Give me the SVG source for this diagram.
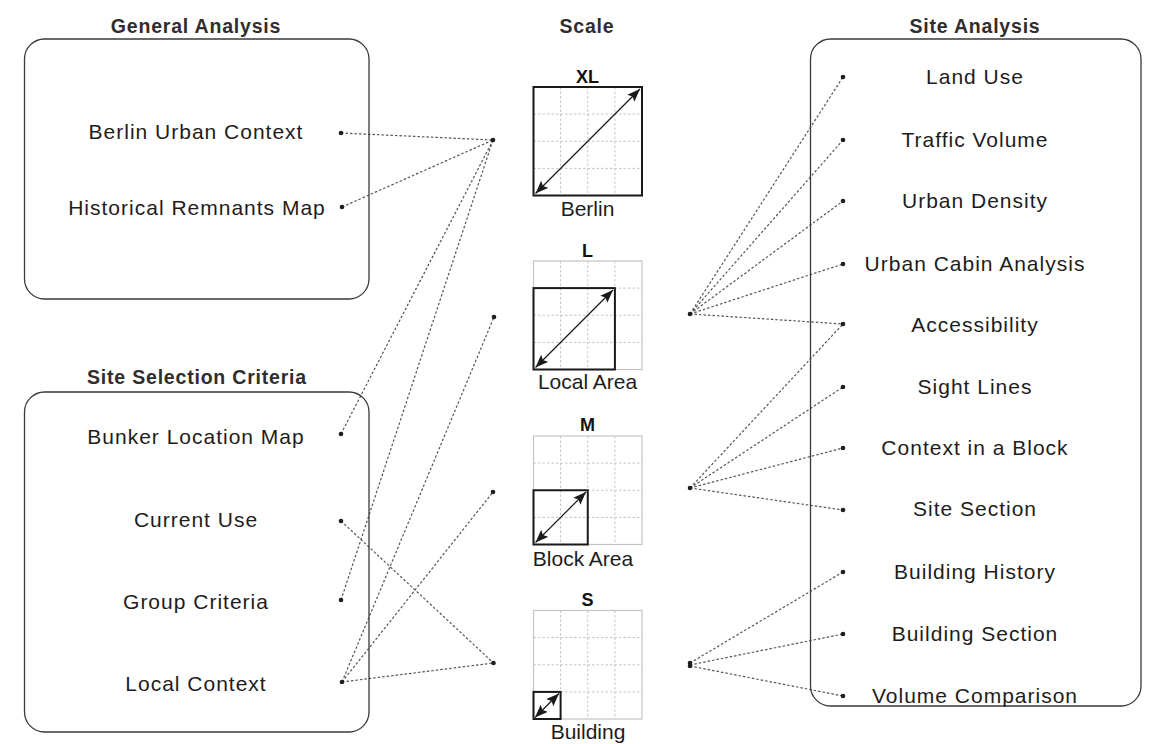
<svg xmlns="http://www.w3.org/2000/svg" width="1161" height="744" viewBox="0 0 1161 744">
  <style>
    .title { font-family: "Liberation Sans", Arial, sans-serif; font-size: 19.5px; font-weight: bold; fill: #2f2d2d; text-anchor: middle; letter-spacing: 0.8px; }
    .label { font-family: "Liberation Sans", Arial, sans-serif; font-size: 21px; fill: #1e1c1c; text-anchor: middle; letter-spacing: 1px; }
    .sub { font-family: "Liberation Sans", Arial, sans-serif; font-size: 21px; fill: #1e1c1c; text-anchor: middle; }
    .scale { font-family: "Liberation Sans", Arial, sans-serif; font-size: 18px; font-weight: bold; fill: #111; text-anchor: middle; }
    .panel { fill: none; stroke: #3a3a3a; stroke-width: 1.3; }
    .grid-out { fill: none; stroke: #c4c4c4; stroke-width: 1.2; }
    .grid-in { fill: none; stroke: #c4c4c4; stroke-width: 1; stroke-dasharray: 2.5 2; }
    .box { fill: none; stroke: #1a1a1a; stroke-width: 2; }
    .arrow { stroke: #1a1a1a; stroke-width: 1.2; marker-start: url(#head); marker-end: url(#head); }
    .link { fill: none; stroke: #555555; stroke-width: 1.2; stroke-dasharray: 2.5 2; }
    .dot { fill: #1e1e1e; }
  </style>
  <defs>
    <marker id="head" viewBox="0 0 13 10" refX="13" refY="5" markerWidth="13" markerHeight="10" markerUnits="userSpaceOnUse" orient="auto-start-reverse">
      <path d="M0,0 L13,5 L0,10 L2.5,5 z" fill="#1a1a1a"/>
    </marker>
    <!-- 4x4 reference grid shared by the scale icons -->
    <g id="grid">
      <rect class="grid-out" x="0" y="0" width="108.5" height="108.5"/>
      <path class="grid-in" d="M27.1,0 V108.5 M54.25,0 V108.5 M81.4,0 V108.5 M0,27.1 H108.5 M0,54.25 H108.5 M0,81.4 H108.5"/>
    </g>
  </defs>

  <rect width="1161" height="744" fill="#ffffff"/>

  <!-- column titles -->
  <text class="title" x="196" y="33">General Analysis</text>
  <text class="title" x="587" y="33">Scale</text>
  <text class="title" x="975" y="33">Site Analysis</text>

  <!-- connectors -->
  <g id="connectors">
    <line class="link" x1="341" y1="133" x2="493" y2="140"/>
    <line class="link" x1="342" y1="207" x2="493" y2="140"/>
    <line class="link" x1="341" y1="434" x2="493" y2="140"/>
    <line class="link" x1="341" y1="600" x2="493" y2="140"/>
    <line class="link" x1="342" y1="682" x2="494" y2="317"/>
    <line class="link" x1="342" y1="682" x2="493" y2="492"/>
    <line class="link" x1="342" y1="682" x2="493.5" y2="663"/>
    <line class="link" x1="341" y1="521" x2="493.5" y2="663"/>

    <line class="link" x1="690" y1="314" x2="843" y2="77"/>
    <line class="link" x1="690" y1="314" x2="843" y2="140"/>
    <line class="link" x1="690" y1="314" x2="843" y2="201"/>
    <line class="link" x1="690" y1="314" x2="843" y2="264"/>
    <line class="link" x1="690" y1="314" x2="843" y2="324"/>

    <line class="link" x1="690" y1="488" x2="843" y2="324"/>
    <line class="link" x1="690" y1="488" x2="843" y2="387"/>
    <line class="link" x1="690" y1="488" x2="843" y2="448"/>
    <line class="link" x1="690" y1="488" x2="843" y2="510"/>

    <line class="link" x1="690" y1="663" x2="843" y2="572"/>
    <line class="link" x1="690" y1="665" x2="843" y2="634"/>
    <line class="link" x1="690" y1="666" x2="843" y2="696"/>

    <g class="dot">
      <circle cx="493" cy="140" r="2.3"/>
      <circle cx="494" cy="317" r="2.3"/>
      <circle cx="493" cy="492" r="2.3"/>
      <circle cx="493.5" cy="663" r="2.3"/>
      <circle cx="690" cy="314" r="2.3"/>
      <circle cx="690" cy="488" r="2.3"/>
      <circle cx="690" cy="663" r="2.3"/>
      <circle cx="690" cy="666" r="2.3"/>
    </g>
  </g>

  <!-- General Analysis panel -->
  <g id="general-analysis">
    <rect class="panel" x="24.5" y="39" width="344.5" height="260" rx="20"/>
    <text class="label" x="196" y="139">Berlin Urban Context</text>
    <circle class="dot" cx="341" cy="133" r="2.3"/>
    <text class="label" x="197" y="215">Historical Remnants Map</text>
    <circle class="dot" cx="342" cy="207" r="2.3"/>
  </g>

  <!-- Site Selection Criteria panel -->
  <g id="site-selection">
    <text class="title" x="197" y="384">Site Selection Criteria</text>
    <rect class="panel" x="24.5" y="392" width="344.5" height="340" rx="20"/>
    <text class="label" x="196" y="444">Bunker Location Map</text>
    <circle class="dot" cx="341" cy="434" r="2.3"/>
    <text class="label" x="196" y="527">Current Use</text>
    <circle class="dot" cx="341" cy="521" r="2.3"/>
    <text class="label" x="196" y="609">Group Criteria</text>
    <circle class="dot" cx="341" cy="600" r="2.3"/>
    <text class="label" x="196" y="691">Local Context</text>
    <circle class="dot" cx="342" cy="682" r="2.3"/>
  </g>

  <!-- scale icons -->
  <g id="scale-xl">
    <text class="scale" x="587.5" y="83">XL</text>
    <use href="#grid" x="533.5" y="87"/>
    <rect class="box" x="533.5" y="87" width="108.5" height="108.5"/>
    <line class="arrow" x1="535.5" y1="193.5" x2="640" y2="89"/>
    <text class="sub" x="587.5" y="216">Berlin</text>
  </g>
  <g id="scale-l">
    <text class="scale" x="587.5" y="257">L</text>
    <use href="#grid" x="533.5" y="261"/>
    <rect class="box" x="533.5" y="288.1" width="81.4" height="81.4"/>
    <line class="arrow" x1="535.5" y1="367.5" x2="613" y2="290"/>
    <text class="sub" x="587.5" y="389">Local Area</text>
  </g>
  <g id="scale-m">
    <text class="scale" x="587.5" y="431">M</text>
    <use href="#grid" x="533.5" y="436"/>
    <rect class="box" x="533.5" y="490.25" width="54.25" height="54.25"/>
    <line class="arrow" x1="535.5" y1="542.5" x2="586" y2="492"/>
    <text class="sub" x="583" y="566">Block Area</text>
  </g>
  <g id="scale-s">
    <text class="scale" x="587.5" y="606">S</text>
    <use href="#grid" x="533.5" y="610.5"/>
    <rect class="box" x="533.5" y="691.9" width="27.1" height="27.1"/>
    <line class="arrow" x1="535" y1="717.5" x2="559" y2="693.5"/>
    <text class="sub" x="588" y="739">Building</text>
  </g>

  <!-- Site Analysis panel -->
  <g id="site-analysis">
    <rect class="panel" x="810.5" y="39" width="330.5" height="667" rx="20"/>
    <text class="label" x="975" y="84">Land Use</text>
    <text class="label" x="975" y="147">Traffic Volume</text>
    <text class="label" x="975" y="208">Urban Density</text>
    <text class="label" x="975" y="271">Urban Cabin Analysis</text>
    <text class="label" x="975" y="332">Accessibility</text>
    <text class="label" x="975" y="394">Sight Lines</text>
    <text class="label" x="975" y="455">Context in a Block</text>
    <text class="label" x="975" y="516">Site Section</text>
    <text class="label" x="975" y="579">Building History</text>
    <text class="label" x="975" y="641">Building Section</text>
    <text class="label" x="975" y="703">Volume Comparison</text>
    <g class="dot">
      <circle cx="843" cy="77" r="2.3"/>
      <circle cx="843" cy="140" r="2.3"/>
      <circle cx="843" cy="201" r="2.3"/>
      <circle cx="843" cy="264" r="2.3"/>
      <circle cx="843" cy="324" r="2.3"/>
      <circle cx="843" cy="387" r="2.3"/>
      <circle cx="843" cy="448" r="2.3"/>
      <circle cx="843" cy="510" r="2.3"/>
      <circle cx="843" cy="572" r="2.3"/>
      <circle cx="843" cy="634" r="2.3"/>
      <circle cx="843" cy="696" r="2.3"/>
    </g>
  </g>
</svg>
